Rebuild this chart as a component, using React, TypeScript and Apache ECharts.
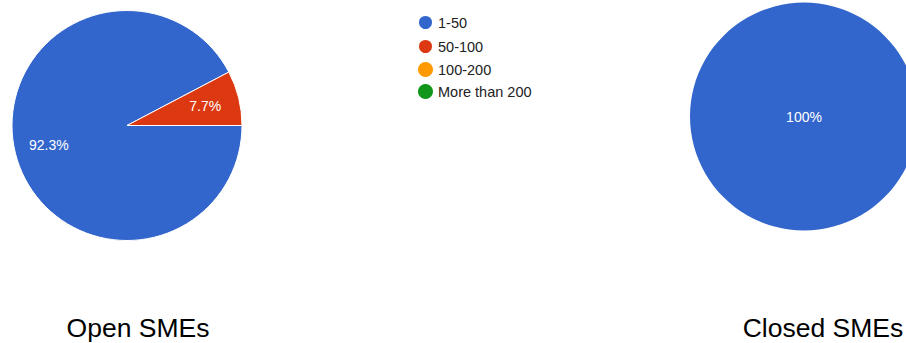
import React, { useEffect, useRef } from "react";
import * as echarts from "echarts";

const categories = ["1-50", "50-100", "100-200", "More than 200"];
const colors = ["#3366cc", "#dc3912", "#ff9900", "#109618"];
const openValues = [12, 1, 0, 0];
const closedValues = [9, 0, 0, 0];
const titles = ["Open SMEs", "Closed SMEs"];

const FONT = "'Liberation Sans', Arial, Helvetica, sans-serif";

function makeData(values: number[]) {
  return categories.map((name, i) => ({
    name,
    value: values[i],
    itemStyle: values[i] === 0 ? { borderWidth: 0 } : undefined,
  }));
}

function labelPos(values: number[], idx: number, cx: number, cy: number, r: number, startAngle: number) {
  const total = values.reduce((a, b) => a + b, 0);
  const v = values[idx];
  if (v / total >= 0.999) return { x: cx, y: cy };
  let cum = 0;
  for (let i = 0; i < idx; i++) cum += values[i];
  const mid = ((startAngle - (360 * (cum + v / 2)) / total) * Math.PI) / 180;
  const k = 0.7;
  return { x: cx + k * r * Math.cos(mid), y: cy - k * r * Math.sin(mid) };
}

export default function App() {
  const ref = useRef<HTMLDivElement>(null);
  useEffect(() => {
    if (!ref.current) return;
    const chart = echarts.init(ref.current, undefined, { renderer: "svg" });
    const pies = [
      { values: openValues, cx: 127, cy: 125.5, r: 115 },
      { values: closedValues, cx: 804, cy: 116.5, r: 114 },
    ];
    chart.setOption({
      animation: false,
      color: colors,
      legend: {
        orient: "vertical",
        left: 417,
        top: 14,
        padding: 0,
        itemWidth: 15,
        itemHeight: 15,
        itemGap: 7,
        icon: "circle",
        selectedMode: false,
        data: categories,
        textStyle: { fontSize: 14.5, color: "#222", fontFamily: FONT },
      },
      title: titles.map((t, i) => ({
        text: t,
        left: i === 0 ? 138 : 823,
        top: 314,
        textAlign: "center",
        padding: 0,
        textStyle: { fontSize: 26.5, fontWeight: "normal", color: "#000", fontFamily: FONT },
      })),
      series: pies.map((p) => ({
        type: "pie",
        center: [p.cx, p.cy],
        radius: p.r,
        startAngle: 0,
        clockwise: true,
        avoidLabelOverlap: false,
        minShowLabelAngle: 0.5,
        itemStyle: { borderColor: "#fff", borderWidth: p.values.filter((v) => v > 0).length > 1 ? 1 : 0 },
        label: {
          show: true,
          position: "inside",
          formatter: (prm: any) => (prm.value > 0 ? prm.percent.toFixed(prm.percent === 100 ? 0 : 1) + "%" : ""),
          color: "#fff",
          fontSize: 14,
          fontFamily: FONT,
        },
        labelLine: { show: false },
        labelLayout: (prm: any) => {
          const pos = labelPos(p.values, prm.dataIndex, p.cx, p.cy, p.r, 0);
          return { x: pos.x, y: pos.y, align: "center", verticalAlign: "middle" };
        },
        emphasis: { disabled: true },
        data: makeData(p.values),
      })),
    });
    return () => chart.dispose();
  }, []);
  return (
    <div
      ref={ref}
      style={{ position: "absolute", left: 0, top: 0, width: 906, height: 343, background: "#fff" }}
    />
  );
}
